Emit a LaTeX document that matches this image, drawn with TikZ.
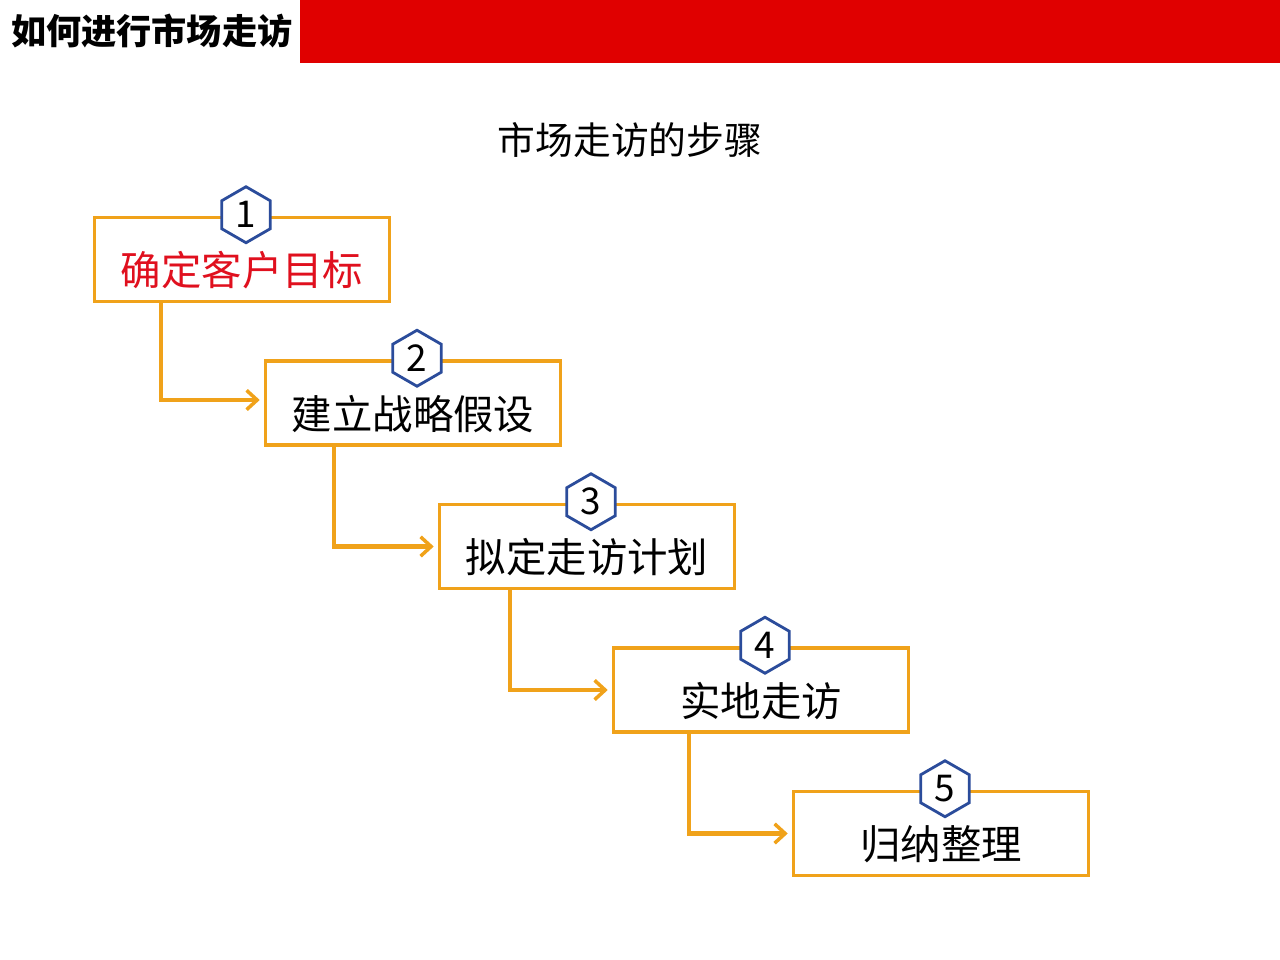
\documentclass[tikz,border=0pt]{standalone}
\usepackage{fontspec}
\setmainfont{Noto Sans CJK SC}
\usepackage{xcolor}
\usetikzlibrary{shapes,arrows.meta,positioning}

\definecolor{barred}{HTML}{E00000}
\definecolor{boxorange}{HTML}{F0A21A}
\definecolor{hexblue}{HTML}{2B4C9B}
\definecolor{goalred}{HTML}{E0101E}

\begin{document}
\begin{tikzpicture}[node distance=2.87cm, auto]
    % Define styles
    \tikzstyle{stepbox} = [rectangle, minimum width=5.9cm, minimum height=1.68cm, text centered, draw=boxorange, line width=2pt, fill=white, font=\fontsize{23}{27}\selectfont, text height=33pt, text depth=3pt]
    \tikzstyle{hexa} = [regular polygon, regular polygon sides=6, shape border rotate=30, minimum size=1.12cm, inner sep=0pt, draw=hexblue, line width=1.6pt, fill=white, font=\fontsize{21}{24}\selectfont]
    \tikzstyle{flow} = [draw=boxorange, line width=2.3pt, -{Straight Barb[length=6pt, width=11pt, line width=2pt]}]

    \useasboundingbox (0,0) rectangle (25.6,-19.2);

    % Header
    \fill[barred] (6.0,0) rectangle (25.6,-1.26);
    \node[anchor=west, font=\bfseries\fontsize{20}{24}\selectfont] (title) at (0.1,-0.62) {如何进行市场走访};
    \node[font=\fontsize{21.5}{26}\selectfont] (subtitle) at (12.6,-2.8) {市场走访的步骤};

    % Steps
    \node [stepbox, text=goalred] (b1) at (4.84,-5.19) {确定客户目标};
    \node [stepbox, below of=b1, xshift=3.42cm] (b2) {建立战略假设};
    \node [stepbox, below of=b2, xshift=3.48cm] (b3) {拟定走访计划};
    \node [stepbox, below of=b3, xshift=3.48cm] (b4) {实地走访};
    \node [stepbox, below of=b4, xshift=3.6cm] (b5) {归纳整理};

    % Numbers
    \foreach \i in {1,...,5}
        \node [hexa] (n\i) at ([xshift=0.08cm, yshift=0.02cm]b\i.north) {\i};

    % Elbow arrows between steps
    \draw [flow] ([xshift=1.36cm]b1.south west) |- ([xshift=-0.08cm, yshift=0.06cm]b2.west);
    \draw [flow] ([xshift=1.4cm]b2.south west) |- ([xshift=-0.08cm]b3.west);
    \draw [flow] ([xshift=1.44cm]b3.south west) |- ([xshift=-0.08cm]b4.west);
    \draw [flow] ([xshift=1.54cm]b4.south west) |- ([xshift=-0.08cm]b5.west);

\end{tikzpicture}
\end{document}
